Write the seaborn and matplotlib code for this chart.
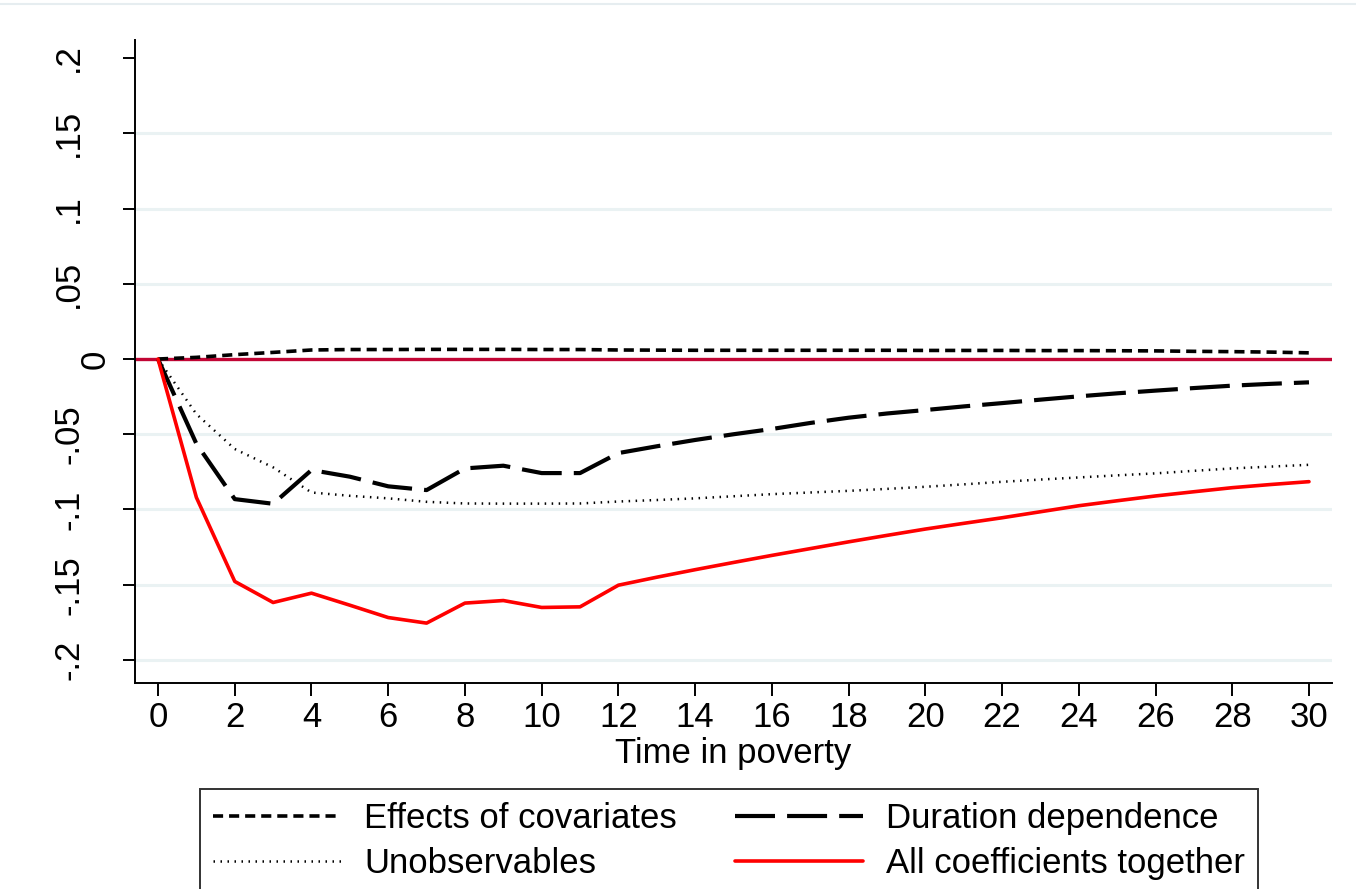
import numpy as np
import pandas as pd
import matplotlib
matplotlib.use("Agg")
import matplotlib.pyplot as plt
import matplotlib.transforms as mtransforms
from matplotlib.lines import Line2D
import seaborn as sns

# Years spent in poverty
years = list(range(0, 31))

# Decomposition of the exit-rate change by component
covariates = [0.0, 0.0011, 0.0029, 0.0044, 0.0060, 0.0063, 0.0063, 0.0064, 0.0064,
              0.0064, 0.0063, 0.0063, 0.0060, 0.0059, 0.0058, 0.0058, 0.0058, 0.0058,
              0.0058, 0.0058, 0.0057, 0.0057, 0.0057, 0.0056, 0.0056, 0.0055, 0.0054,
              0.0051, 0.0049, 0.0046, 0.0041]
duration = [0.0, -0.0563, -0.0931, -0.0962, -0.0738, -0.0782, -0.0846, -0.0871, -0.0727,
            -0.0709, -0.0758, -0.0758, -0.0625, -0.0580, -0.0538, -0.0500, -0.0465, -0.0425,
            -0.0390, -0.0362, -0.0339, -0.0315, -0.0293, -0.0270, -0.0248, -0.0228, -0.0210,
            -0.0193, -0.0177, -0.0165, -0.0155]
unobserved = [0.0, -0.0366, -0.0598, -0.0720, -0.0887, -0.0909, -0.0926, -0.0949, -0.0960,
              -0.0961, -0.0961, -0.0960, -0.0947, -0.0937, -0.0926, -0.0912, -0.0898, -0.0887,
              -0.0876, -0.0863, -0.0849, -0.0833, -0.0816, -0.0801, -0.0787, -0.0773, -0.0760,
              -0.0743, -0.0727, -0.0715, -0.0703]
all_coef = [0.0, -0.0920, -0.1478, -0.1618, -0.1556, -0.1636, -0.1718, -0.1755, -0.1622,
            -0.1605, -0.1651, -0.1647, -0.1503, -0.1450, -0.1400, -0.1352, -0.1305, -0.1260,
            -0.1215, -0.1172, -0.1130, -0.1092, -0.1055, -0.1015, -0.0975, -0.0942, -0.0910,
            -0.0882, -0.0855, -0.0834, -0.0815]

y_ticks = [-0.2, -0.15, -0.1, -0.05, 0, 0.05, 0.1, 0.15, 0.2]
y_labels = ["-.2", "-.15", "-.1", "-.05", "0", ".05", ".1", ".15", ".2"]
x_ticks = list(range(0, 31, 2))

sns.set_theme(style="white")
plt.rcParams["font.family"] = ["Liberation Sans", "DejaVu Sans"]
FS = 25

fig = plt.figure(figsize=(13.56, 8.89), dpi=100)
ax = fig.add_axes([135 / 1356, 1 - 683 / 889, (1332 - 135) / 1356, (683 - 40) / 889])

# Horizontal reference grid (no line at the top tick, zero gets its own line)
for yv in y_ticks:
    if yv not in (0, 0.2):
        ax.axhline(yv, color="#eaf2f3", lw=2.2, zorder=0)
ax.axhline(0, color="#c10534", lw=2.4, zorder=1)

df = pd.DataFrame({"t": years, "cov": covariates, "dur": duration,
                   "unobs": unobserved, "all": all_coef})

sns.lineplot(data=df, x="t", y="cov", ax=ax, color="black", lw=2.6,
             linestyle=(0, (2.8, 1.65)), label="Effects of covariates", zorder=3)
sns.lineplot(data=df, x="t", y="unobs", ax=ax, color="black", lw=1.8,
             linestyle=(0, (0.6, 2.2)), label="Unobservables", zorder=3)
sns.lineplot(data=df, x="t", y="dur", ax=ax, color="black", lw=3.0,
             linestyle=(0, (9.6, 2.9)), label="Duration dependence", zorder=3)
sns.lineplot(data=df, x="t", y="all", ax=ax, color="#ff0000", lw=2.6,
             label="All coefficients together", zorder=4)

ax.set_xlim(-0.6, 30.6)
ax.set_ylim(-0.2153, 0.212)
ax.set_xticks(x_ticks)
ax.set_xticklabels([str(v) for v in x_ticks], fontsize=FS)
ax.set_yticks(y_ticks)
ax.set_yticklabels(y_labels, fontsize=FS, rotation=90, va="center")
ax.set_xlabel("Time in poverty", fontsize=FS, labelpad=2, color="black")
ax.set_ylabel("")

for side in ("top", "right"):
    ax.spines[side].set_visible(False)
for side in ("left", "bottom"):
    ax.spines[side].set_color("black")
    ax.spines[side].set_linewidth(1.4)
ax.tick_params(axis="both", which="major", direction="out", length=9, width=1.4,
               color="black", labelcolor="black", left=True, bottom=True)
ax.tick_params(axis="x", pad=4)
ax.tick_params(axis="y", pad=27)

# The zero label sits closer to the axis
for lab in ax.get_yticklabels():
    if lab.get_text() == "0":
        lab.set_transform(lab.get_transform() +
                          mtransforms.ScaledTranslation(27 / 100, 0, fig.dpi_scale_trans))

handles, labels = ax.get_legend_handles_labels()
ax.get_legend().remove()
leg = fig.legend(handles, labels, loc="upper left", ncol=2,
                 bbox_to_anchor=(200 / 1356, 1 - 789 / 889), borderaxespad=0,
                 fontsize=FS, frameon=True, fancybox=False, edgecolor="black",
                 handlelength=3.7, handletextpad=0.66, columnspacing=1.67,
                 borderpad=0.37, labelspacing=0.35)
leg.get_frame().set_linewidth(1.4)
for t in leg.get_texts():
    t.set_color("black")

# Thin rule along the top edge
fig.add_artist(Line2D([0, 1], [1 - 4 / 889, 1 - 4 / 889], color="#e6edf0", lw=1.5))

fig.savefig("out.png", dpi=100, facecolor="white")
